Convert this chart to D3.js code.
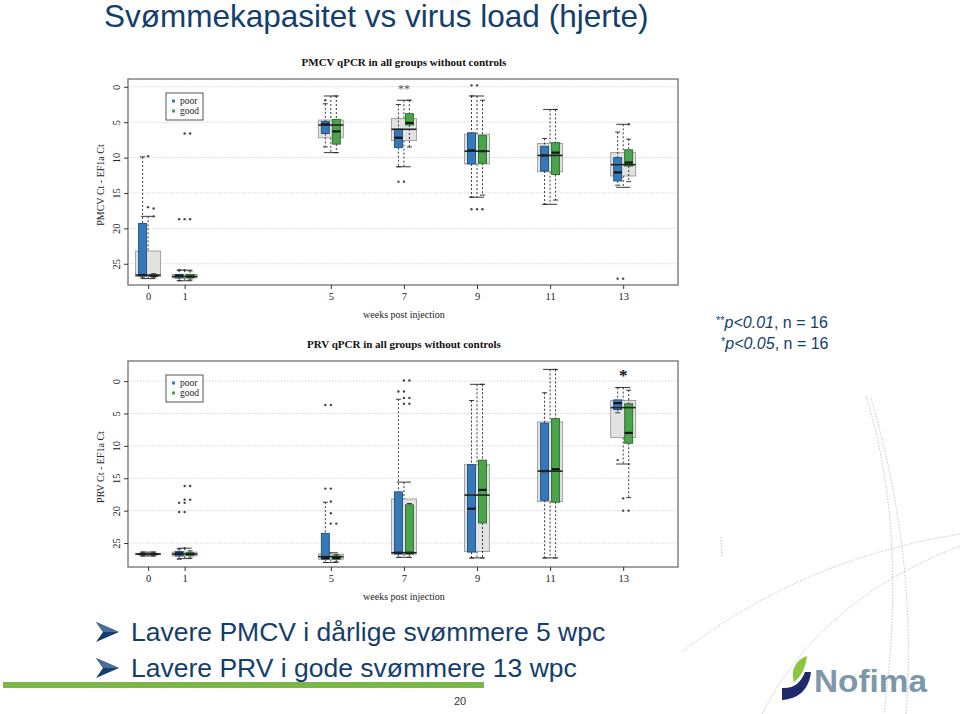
<!DOCTYPE html>
<html>
<head>
<meta charset="utf-8">
<script src="https://cdn.jsdelivr.net/npm/d3@7"></script>
<style>
  body { margin: 0; background: #fff; }
  svg { display: block; }
</style>
</head>
<body>
<div id="slide"></div>
<script>
// Slide size
const width = 960;
const height = 714;

// Data (Ct units, 0 at the top of each panel)
const weeks = [0, 1, 5, 7, 9, 11, 13];
const yTicks = [0, 5, 10, 15, 20, 25];
const groupNames = ["poor", "all", "good"];

// five numbers per week: [upper whisker, q1, median, q3, lower whisker]
const pmcvPoor = [[9.9, 19.3, 26.6, 26.7, 27.0], [25.9, 26.5, 26.7, 27.0, 27.4], [2.4, 4.9, 5.3, 6.6, 8.5], [2.5, 6.0, 7.2, 8.6, 11.3], [1.3, 6.5, 9.0, 10.9, 15.6], [7.3, 8.4, 9.7, 11.9, 16.6], [6.4, 10.0, 12.1, 13.3, 13.9]];
const pmcvAll = [[18.3, 23.2, 26.6, 26.8, 27.1], [25.9, 26.5, 26.8, 27.0, 27.4], [1.3, 4.7, 5.4, 7.2, 9.3], [1.9, 4.5, 6.0, 7.6, 11.3], [1.3, 6.7, 9.1, 10.9, 15.6], [3.2, 8.0, 9.7, 12.0, 16.6], [5.3, 9.3, 11.0, 12.6, 14.2]];
const pmcvGood = [[26.4, 26.6, 26.7, 26.8, 27.0], [26.0, 26.5, 26.8, 27.0, 27.3], [1.3, 4.6, 6.3, 8.1, 9.3], [1.9, 3.8, 5.1, 5.4, 8.5], [1.9, 6.9, 9.1, 10.8, 15.3], [3.2, 7.9, 9.3, 12.4, 16.0], [7.4, 8.9, 10.7, 11.2, 13.4]];
const pmcvOutPoor = [[], [18.7, 25.9], [1.9], [13.4], [-0.2, 17.3], [], [27.1]];
const pmcvOutAll = [[9.8, 17.0], [6.6, 18.7, 25.9], [], [13.4], [-0.2, 17.3], [], [27.1]];
const pmcvOutGood = [[17.2, 18.3], [6.6, 18.7], [], [], [17.3], [], [5.3]];

const prvPoor = [[26.4, 26.6, 26.7, 26.8, 27.0], [25.9, 26.3, 26.6, 27.0, 27.5], [18.7, 23.5, 27.3, 27.5, 28.0], [2.8, 17.1, 26.5, 26.7, 27.2], [3.0, 12.9, 19.7, 26.4, 27.3], [1.8, 6.5, 13.9, 18.4, 27.3], [1.0, 2.9, 3.4, 4.4, 4.9]];
const prvAll = [[26.4, 26.6, 26.7, 26.8, 27.0], [25.8, 26.4, 26.7, 27.0, 27.4], [26.5, 26.7, 27.1, 27.5, 28.0], [15.6, 18.2, 26.5, 26.7, 27.2], [0.5, 12.9, 17.6, 26.3, 27.3], [-1.8, 6.3, 13.9, 18.6, 27.3], [1.0, 3.0, 4.1, 8.7, 12.8]];
const prvGood = [[26.4, 26.6, 26.7, 26.8, 27.0], [26.2, 26.5, 26.7, 26.9, 27.3], [26.8, 27.0, 27.3, 27.5, 27.9], [18.9, 19.1, 26.5, 26.7, 27.2], [0.5, 12.2, 16.8, 21.9, 27.3], [-1.8, 5.8, 13.6, 18.7, 27.3], [1.4, 3.5, 8.0, 9.6, 18.0]];
const prvOutPoor = [[], [18.8, 20.2], [3.7, 16.6], [1.6], [], [], [12.2]];
const prvOutAll = [[], [16.2, 18.3, 18.8, 20.2, 25.8], [3.7, 16.6, 18.6, 20.4, 22.0], [-0.1, 1.6, 2.6, 3.5], [], [], [18.1, 20.0]];
const prvOutGood = [[], [16.2, 18.3], [22.0], [-0.1, 2.6, 3.5], [], [], [20.0]];

// significance marks
const pmcvSig = [{ week: 7, label: "**" }];
const prvSig = [{ week: 13, label: "*" }];

const bullets = [
    "Lavere PMCV i dårlige svømmere 5 wpc",
    "Lavere PRV i gode svømmere 13 wpc"
];

// Colours
const navy = "#143e6d";
const fills = { poor: "#3579b8", all: "#e2e2e2", good: "#4aa54a" };
const strokes = { poor: "#1f4e7a", all: "#9a9a9a", good: "#2a6a2a" };
const boxWidth = { poor: 8, all: 25, good: 8 };
const capWidth = { poor: 5, all: 14, good: 5 };

const svg = d3.select("#slide")
    .append("svg")
    .attr("width", width)
    .attr("height", height)
    .style("font-family", "'Liberation Sans', Arial, sans-serif");

// Decorative dotted arcs in the lower right
const arcs = [
    "M866,396 Q908,530 884,714",
    "M871,398 Q918,560 906,714",
    "M682,652 Q800,560 960,534",
    "M762,714 Q820,600 960,546",
    "M721,537 L722,557"
];
svg.selectAll("path.deco")
    .data(arcs)
    .enter()
    .append("path")
    .attr("class", "deco")
    .attr("d", d => d)
    .attr("fill", "none")
    .attr("stroke", "#bfc5cb")
    .attr("stroke-width", 1)
    .attr("stroke-dasharray", "1.5,1.5");

// Slide title
svg.append("text")
    .attr("x", 104)
    .attr("y", 26.5)
    .style("font-size", "31.5px")
    .style("fill", navy)
    .text("Svømmekapasitet vs virus load (hjerte)");

// Shared x scale for both panels
const x = d3.scaleLinear()
    .domain([-0.55, 14.5])
    .range([128, 678]);

const offset = d3.scalePoint()
    .domain(groupNames)
    .range([-5.5, 5.5]);

const panels = [
    {
        top: 79, bottom: 285, domain: [-1.1, 28.0],
        title: "PMCV qPCR in all groups without controls",
        ylabel: "PMCV Ct - EF1a Ct",
        data: { poor: pmcvPoor, all: pmcvAll, good: pmcvGood },
        out: { poor: pmcvOutPoor, all: pmcvOutAll, good: pmcvOutGood },
        sig: pmcvSig, sigSize: 12, sigColor: "#555"
    },
    {
        top: 361, bottom: 567, domain: [-3.1, 28.7],
        title: "PRV qPCR in all groups without controls",
        ylabel: "PRV Ct - EF1a Ct",
        data: { poor: prvPoor, all: prvAll, good: prvGood },
        out: { poor: prvOutPoor, all: prvOutAll, good: prvOutGood },
        sig: prvSig, sigSize: 17, sigColor: "#111"
    }
];

panels.forEach(p => drawPanel(p));

function drawPanel(p) {
    const y = d3.scaleLinear()
        .domain(p.domain)
        .range([p.top, p.bottom]);

    const g = svg.append("g")
        .style("font-family", "'Liberation Serif', 'Times New Roman', serif");

    // Grid lines
    g.selectAll("line.grid")
        .data(yTicks)
        .enter()
        .append("line")
        .attr("x1", x.range()[0])
        .attr("x2", x.range()[1])
        .attr("y1", d => y(d))
        .attr("y2", d => y(d))
        .attr("stroke", "#d4d4d4")
        .attr("stroke-width", 1)
        .attr("stroke-dasharray", "1.5,1.5");

    // Boxes: overall group first, then poor and good on top
    ["all", "poor", "good"].forEach(name => {
        const stats = p.data[name];
        const bw = boxWidth[name];
        const cw = capWidth[name];
        const cx = i => x(weeks[i]) + offset(name);

        const grp = g.append("g");
        stats.forEach((s, i) => {
            const c = cx(i);
            // whiskers
            [[s[0], s[1]], [s[3], s[4]]].forEach(([a, b]) => {
                grp.append("line")
                    .attr("x1", c).attr("x2", c)
                    .attr("y1", y(a)).attr("y2", y(b))
                    .attr("stroke", "#222")
                    .attr("stroke-width", 0.9)
                    .attr("stroke-dasharray", "2,2");
            });
            [s[0], s[4]].forEach(v => {
                grp.append("line")
                    .attr("x1", c - cw / 2).attr("x2", c + cw / 2)
                    .attr("y1", y(v)).attr("y2", y(v))
                    .attr("stroke", "#222")
                    .attr("stroke-width", 0.9);
            });
            // box
            grp.append("rect")
                .attr("x", c - bw / 2)
                .attr("width", bw)
                .attr("y", y(s[1]))
                .attr("height", Math.max(1, y(s[3]) - y(s[1])))
                .attr("fill", fills[name])
                .attr("stroke", strokes[name])
                .attr("stroke-width", 0.9);
            if (name !== "all") {
                grp.append("line")
                    .attr("x1", c - bw / 2).attr("x2", c + bw / 2)
                    .attr("y1", y(s[2])).attr("y2", y(s[2]))
                    .attr("stroke", "#111")
                    .attr("stroke-width", 2.2);
            }
            // outliers
            p.out[name][i].forEach(v => {
                grp.append("circle")
                    .attr("cx", c)
                    .attr("cy", y(v))
                    .attr("r", 1.2)
                    .attr("fill", "#444");
            });
        });
    });

    // Overall medians drawn across everything
    g.selectAll("line.allmed")
        .data(p.data.all)
        .enter()
        .append("line")
        .attr("x1", (d, i) => x(weeks[i]) - boxWidth.all / 2)
        .attr("x2", (d, i) => x(weeks[i]) + boxWidth.all / 2)
        .attr("y1", d => y(d[2]))
        .attr("y2", d => y(d[2]))
        .attr("stroke", "#222")
        .attr("stroke-width", 1.6);

    // Frame
    g.append("rect")
        .attr("x", x.range()[0])
        .attr("y", p.top)
        .attr("width", x.range()[1] - x.range()[0])
        .attr("height", p.bottom - p.top)
        .attr("fill", "none")
        .attr("stroke", "#7a7a7a")
        .attr("stroke-width", 1.4);

    // x axis
    const xAxis = g.append("g")
        .attr("transform", `translate(0,${p.bottom})`)
        .call(d3.axisBottom(x).tickValues(weeks).tickSize(4).tickPadding(4));
    xAxis.select(".domain").remove();
    xAxis.selectAll("line").attr("stroke", "#333");
    xAxis.selectAll("text")
        .style("font-family", "'Liberation Serif', serif")
        .style("font-size", "10.5px")
        .attr("fill", "#222");

    g.append("text")
        .attr("x", x(7))
        .attr("y", p.bottom + 33)
        .attr("text-anchor", "middle")
        .style("font-size", "10px")
        .attr("fill", "#222")
        .text("weeks post injection");

    // y axis with R-style parallel labels
    const yAxis = g.append("g")
        .attr("transform", `translate(${x.range()[0]},0)`)
        .call(d3.axisLeft(y).tickValues(yTicks).tickSize(4).tickFormat(d3.format("d")));
    yAxis.select(".domain").remove();
    yAxis.selectAll("line").attr("stroke", "#333");
    yAxis.selectAll("text")
        .attr("x", 0)
        .attr("dy", 0)
        .attr("text-anchor", "middle")
        .attr("transform", "translate(-8,0) rotate(-90)")
        .style("font-family", "'Liberation Serif', serif")
        .style("font-size", "10.5px")
        .attr("fill", "#222");

    g.append("text")
        .attr("transform", `translate(104,${(p.top + p.bottom) / 2 + 3}) rotate(-90)`)
        .attr("text-anchor", "middle")
        .style("font-size", "10px")
        .attr("fill", "#222")
        .text(p.ylabel);

    // Panel title
    g.append("text")
        .attr("x", x(7))
        .attr("y", p.top - 13)
        .attr("text-anchor", "middle")
        .style("font-size", "11px")
        .style("font-weight", "bold")
        .attr("fill", "#111")
        .text(p.title);

    // Significance marks
    g.selectAll("text.sig")
        .data(p.sig)
        .enter()
        .append("text")
        .attr("x", d => x(d.week))
        .attr("y", p.top + (p.sigSize > 14 ? 20 : 14))
        .attr("text-anchor", "middle")
        .style("font-size", p.sigSize + "px")
        .style("font-weight", p.sigSize > 14 ? "bold" : "normal")
        .attr("fill", p.sigColor)
        .text(d => d.label);

    // Legend
    const lg = g.append("g")
        .attr("transform", `translate(166,${p.top + 14})`);
    lg.append("rect")
        .attr("width", 37).attr("height", 27)
        .attr("fill", "#fff")
        .attr("stroke", "#444")
        .attr("stroke-width", 0.9);
    ["poor", "good"].forEach((name, i) => {
        lg.append("rect")
            .attr("x", 6).attr("y", 6.5 + i * 10)
            .attr("width", 3).attr("height", 3)
            .attr("fill", fills[name]);
        lg.append("text")
            .attr("x", 14).attr("y", 11 + i * 10)
            .style("font-size", "9.5px")
            .attr("fill", "#222")
            .text(name);
    });
}

// p-value notes
const notes = [
    { stars: "**", p: "p<0.01", x: 716, y: 328 },
    { stars: "*", p: "p<0.05", x: 721, y: 349 }
];
notes.forEach(n => {
    const t = svg.append("text")
        .attr("x", n.x)
        .attr("y", n.y)
        .style("font-size", "16px")
        .attr("fill", navy);
    t.append("tspan").style("font-size", "11px").attr("dy", -4).text(n.stars);
    t.append("tspan").style("font-style", "italic").attr("dy", 4).text(n.p);
    t.append("tspan").text(", n = 16");
});

// Bullets
bullets.forEach((b, i) => {
    const by = 641 + i * 36;
    svg.append("path")
        .attr("d", `M96,${by - 19} L119,${by - 9} L96,${by + 1} L103,${by - 9} Z`)
        .attr("fill", navy);
    svg.append("path")
        .attr("d", `M96,${by - 19} L119,${by - 9} L103,${by - 9} Z`)
        .attr("fill", "#4a6f96");
    svg.append("text")
        .attr("x", 131)
        .attr("y", by)
        .style("font-size", "26.5px")
        .attr("fill", navy)
        .text(b);
});

// Green footer bar and page number
svg.append("rect")
    .attr("x", 3).attr("y", 682)
    .attr("width", 481).attr("height", 6)
    .attr("fill", "#7ab648");
svg.append("text")
    .attr("x", 460).attr("y", 705)
    .attr("text-anchor", "middle")
    .style("font-size", "11px")
    .attr("fill", "#333")
    .text("20");

// Nofima logo
svg.append("path")
    .attr("d", "M794,682 C790,670 796,660 807,656 C806,665 803,675 794,682 Z")
    .attr("fill", "#8cc63f");
svg.append("path")
    .attr("d", "M782,688 C793,689 801,683 805,672 L811,672 C809,690 798,699 782,700 Z")
    .attr("fill", "#1f2a6b");
svg.append("text")
    .attr("x", 814)
    .attr("y", 692)
    .attr("textLength", 113)
    .attr("lengthAdjust", "spacingAndGlyphs")
    .style("font-size", "31px")
    .style("font-weight", "bold")
    .attr("fill", "#7d97ab")
    .text("Nofima");
</script>
</body>
</html>
